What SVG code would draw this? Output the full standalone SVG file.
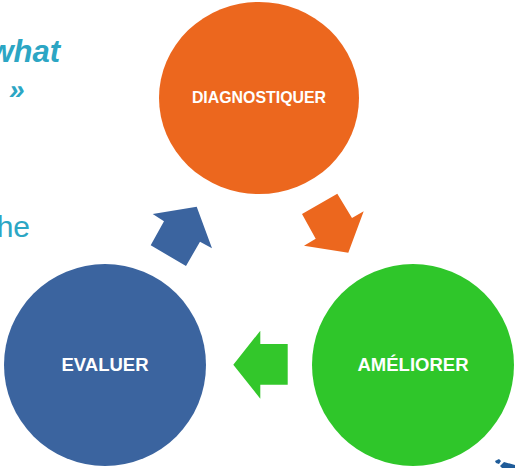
<svg xmlns="http://www.w3.org/2000/svg" width="515" height="468" viewBox="0 0 515 468">
<style>
text{font-family:"Liberation Sans",Arial,sans-serif}
.n{font-weight:700;fill:#fff;text-anchor:middle}
.t{fill:#2ca6c4}
.bi{font-weight:700;font-style:italic}
</style>
<rect width="515" height="468" fill="#fff"/>
<g id="background-text">
<text class="t bi" x="60" y="62" font-size="31" text-anchor="end">what</text>
<text class="t bi" x="9" y="99" font-size="28">»</text>
<text class="t" x="30" y="237" font-size="30" text-anchor="end">he</text>
</g>
<g id="connectors">
<polygon fill="#ec671e" points="302,214 337.3,193.7 352,218 363.7,211.3 348.3,252.7 304,245.7 315.7,238.7"/>
<polygon fill="#33c72b" points="233.3,364.7 260.3,330.7 260.3,344 287.7,344 287.7,384.7 260.3,384.7 260.3,398.7"/>
<polygon fill="#3b649f" points="152.7,214 196.7,206.7 212,248.3 200,241.7 186,266 150.7,245.3 164,221.3"/>
</g>
<g id="diagnostiquer">
<ellipse cx="259" cy="98" rx="100" ry="96" fill="#ec671e"/>
<text class="n" x="259" y="103" font-size="15.9">DIAGNOSTIQUER</text>
</g>
<g id="ameliorer">
<circle cx="413" cy="365" r="101" fill="#2fc62a"/>
<text class="n" x="413" y="371" font-size="18.5">AMÉLIORER</text>
</g>
<g id="evaluer">
<circle cx="105" cy="365" r="101" fill="#3b649f"/>
<text class="n" x="105" y="371" font-size="18.5">EVALUER</text>
</g>
<g id="corner-fragment">
<path d="M495 461l4-2 2 2 -2 3-3-1zM500 466l4-4 11 3v3h-13z" fill="#1f5c99"/>
</g>
</svg>
